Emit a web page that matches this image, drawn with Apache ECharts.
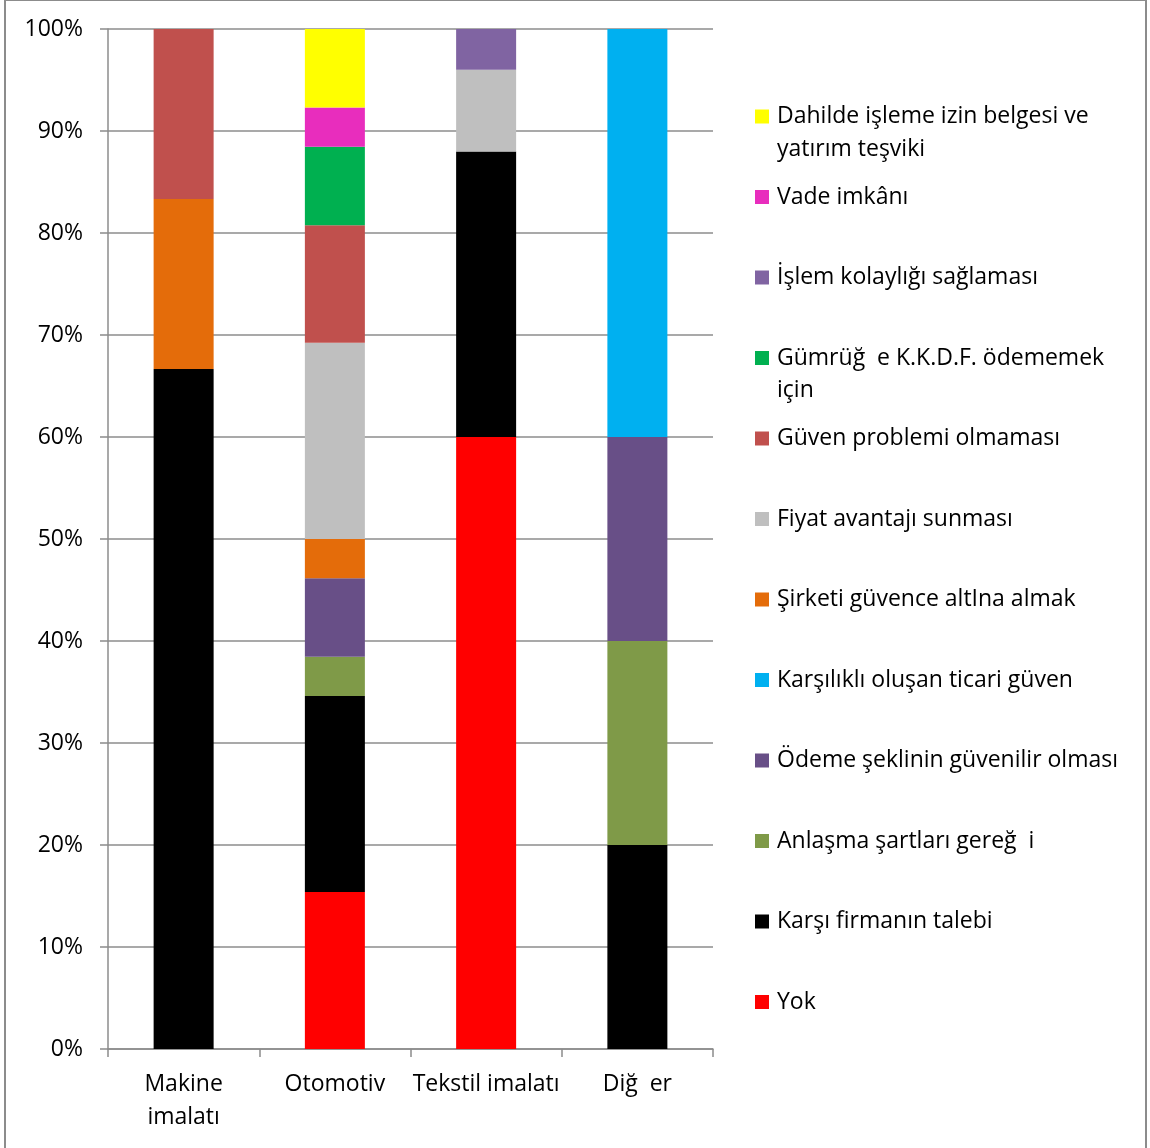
<!DOCTYPE html>
<html>
<head>
<meta charset="utf-8">
<style>
  html, body { margin: 0; padding: 0; background: #fff; }
  #chart { width: 1150px; height: 1148px; }
</style>
<script src="https://cdn.jsdelivr.net/npm/echarts@6/dist/echarts.min.js"></script>
</head>
<body>
<div id="chart"></div>
<script>
// sektörler
const categories = ['Makine\nimalatı', 'Otomotiv', 'Tekstil imalatı', 'Diğ  er']

// seri adları (alttan üste yığılma sırası)
const seriesNames = [
  'Yok',
  'Karşı firmanın talebi',
  'Anlaşma şartları gereğ  i',
  'Ödeme şeklinin güvenilir olması',
  'Karşılıklı oluşan ticari güven',
  'Şirketi güvence altIna almak',
  'Fiyat avantajı sunması',
  'Güven problemi olmaması',
  'Gümrüğ  e K.K.D.F. ödememek için',
  'İşlem kolaylığı sağlaması',
  'Vade imkânı',
  'Dahilde işleme izin belgesi ve yatırım teşviki'
]

// yüzdeler, sektör sırasıyla
const yok = [0, 15.38, 60, 0]
const karsiFirma = [66.67, 19.23, 28, 20]
const anlasma = [0, 3.85, 0, 20]
const odemeSekli = [0, 7.69, 0, 20]
const karsilikli = [0, 0, 0, 40]
const sirketGuvence = [16.67, 3.85, 0, 0]
const fiyat = [0, 19.23, 8, 0]
const guvenProblemi = [16.66, 11.54, 0, 0]
const gumruk = [0, 7.69, 0, 0]
const islemKolayligi = [0, 0, 4, 0]
const vade = [0, 3.85, 0, 0]
const dahilde = [0, 7.69, 0, 0]

const yTicks = ['0%', '10%', '20%', '30%', '40%', '50%', '60%', '70%', '80%', '90%', '100%']

const values = [yok, karsiFirma, anlasma, odemeSekli, karsilikli, sirketGuvence,
  fiyat, guvenProblemi, gumruk, islemKolayligi, vade, dahilde]

const colors = ['#FF0000', '#000000', '#7F9A48', '#684F87', '#00B0F0', '#E46C0A',
  '#BFBFBF', '#C0504D', '#00B050', '#8064A2', '#E82DBD', '#FFFF00']

const font = '"Open Sans", sans-serif'

const chart = echarts.init(document.getElementById('chart'))

const series = seriesNames.map((name, i) => ({
  name,
  type: 'bar',
  stack: 'toplam',
  barWidth: 60,
  itemStyle: { color: colors[i] },
  data: values[i]
}))

// lejant: ilk satır lejantta, kalan satırlar grafik metni
const firstLine = {
  'Dahilde işleme izin belgesi ve yatırım teşviki': 'Dahilde işleme izin belgesi ve',
  'Gümrüğ  e K.K.D.F. ödememek için': 'Gümrüğ  e K.K.D.F. ödememek'
}

chart.setOption({
  animation: false,
  backgroundColor: '#fff',
  grid: { left: 108, right: 437, top: 29, bottom: 99 },
  legend: {
    orient: 'vertical',
    left: 755,
    top: 105,
    padding: 0,
    itemWidth: 14,
    itemHeight: 14,
    itemGap: 57.5,
    icon: 'rect',
    data: seriesNames.slice().reverse(),
    formatter: n => firstLine[n] || n,
    textStyle: { fontFamily: font, fontSize: 23, color: '#000', lineHeight: 22, padding: [0, 0, 0, 3] }
  },
  xAxis: {
    type: 'category',
    data: categories,
    axisLine: { lineStyle: { color: '#8c8c8c', width: 1.5 } },
    axisTick: { show: true, length: 8, lineStyle: { color: '#8c8c8c', width: 1.5 } },
    axisLabel: {
      fontFamily: font, fontSize: 23, color: '#000', margin: 19, lineHeight: 33, interval: 0
    }
  },
  yAxis: {
    type: 'value',
    min: 0,
    max: 100,
    interval: 10,
    axisLine: { show: true, lineStyle: { color: '#8c8c8c', width: 1.5 } },
    axisTick: { show: true, length: 8, lineStyle: { color: '#8c8c8c', width: 1.5 } },
    splitLine: { lineStyle: { color: '#8c8c8c', width: 1.5 } },
    axisLabel: {
      fontFamily: font, fontSize: 23, color: '#000', margin: 25,
      formatter: v => yTicks[Math.round(v / 10)]
    }
  },
  graphic: [
    {
      type: 'rect',
      shape: { x: 5, y: 0, width: 1141, height: 1150 },
      style: { fill: 'none', stroke: '#8c8c8c', lineWidth: 2 },
      silent: true
    },
    {
      type: 'text', left: 777, top: 138,
      style: { text: 'yatırım teşviki', font: '23px ' + font, fill: '#000' }
    },
    {
      type: 'text', left: 777, top: 379,
      style: { text: 'için', font: '23px ' + font, fill: '#000' }
    }
  ],
  series
})
</script>
</body>
</html>
